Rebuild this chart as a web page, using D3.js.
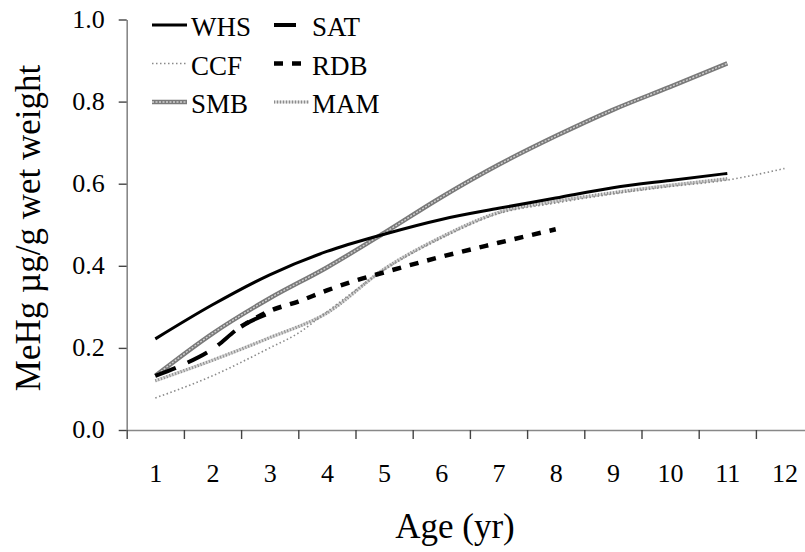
<!DOCTYPE html>
<html>
<head>
<meta charset="utf-8">
<script src="https://d3js.org/d3.v7.min.js"></script>
<style>
body{margin:0;background:#fff;}
</style>
</head>
<body>
<div id="chart"></div>
<script>
// values
var ageLabels=[1,2,3,4,5,6,7,8,9,10,11,12];
var yTicks=[0,0.2,0.4,0.6,0.8,1.0];

var whsAge=[1,2,3,4,5,6,7,8,9,10,11];
var whsVal=[0.222,0.305,0.378,0.435,0.477,0.513,0.54,0.565,0.59,0.608,0.625];

var ccfAge=[1,2,3,3.5,4,5,6,7,8,9,10,11,12];
var ccfVal=[0.078,0.132,0.2,0.236,0.288,0.39,0.467,0.527,0.553,0.575,0.593,0.609,0.637];

var smbAge=[1,2,3,4,5,6,7,8,9,10,11];
var smbVal=[0.132,0.235,0.321,0.396,0.48,0.567,0.646,0.716,0.78,0.836,0.893];

var satAge=[1,1.5,2,2.5,3];
var satVal=[0.132,0.16,0.197,0.252,0.285];

var rdbAge=[2.5,3,3.5,4,4.5,5,6,7,8];
var rdbVal=[0.252,0.29,0.313,0.34,0.364,0.384,0.422,0.456,0.489];

var mamAge=[1,2,3,4,5,6,7,8,9,10,11];
var mamVal=[0.12,0.17,0.225,0.285,0.392,0.47,0.53,0.557,0.578,0.596,0.612];

// legend order, row by row
var legendNames=["WHS","SAT","CCF","RDB","SMB","MAM"];

var FONT='"Liberation Serif","Times New Roman",serif';

//line styles, each one is a list of stroke layers
var styles={
	WHS:[{stroke:"#000",width:3}],
	SAT:[{stroke:"#000",width:4,dash:"22,13"}],
	CCF:[{stroke:"#8a8a8a",width:1.6,dash:"1.5,2.5"}],
	RDB:[{stroke:"#000",width:4.5,dash:"9,9"}],
	SMB:[{stroke:"#7a7a7a",width:4.5},{stroke:"#cfcfcf",width:1.4,dash:"2,1.5"}],
	MAM:[{stroke:"#d4d4d4",width:3.2},{stroke:"#8c8c8c",width:3.2,dash:"1,2"}]
};

var series=[
	{name:"MAM",age:mamAge,val:mamVal},
	{name:"CCF",age:ccfAge,val:ccfVal},
	{name:"SMB",age:smbAge,val:smbVal},
	{name:"SAT",age:satAge,val:satVal},
	{name:"RDB",age:rdbAge,val:rdbVal},
	{name:"WHS",age:whsAge,val:whsVal}
];

var width=805, height=552;
var svg=d3.select("#chart").append("svg")
	.attr("width",width).attr("height",height)
	.style("font-family",FONT);

// category axis: step 57.2px, boundaries at .5
var x=d3.scaleLinear().domain([0.5,12.5]).range([126.7,813.1]);
var y=d3.scaleLinear().domain([0,1]).range([430,19.5]);

// y axis
var yAxis=svg.append("g")
	.attr("transform","translate("+x(0.5)+",0)")
	.call(d3.axisLeft(y).tickValues(yTicks).tickFormat(d3.format(".1f"))
		.tickSize(8).tickSizeOuter(0).tickPadding(14));
yAxis.selectAll("text").style("font-size","26px").attr("dy","0.3em");

// x axis: tick marks on category boundaries, labels in the middle
var bounds=ageLabels.map(function(d){return d-0.5;});
var xAxis=svg.append("g")
	.attr("transform","translate(0,"+y(0)+")")
	.call(d3.axisBottom(x).tickValues(bounds).tickFormat("").tickSize(9).tickSizeOuter(0));
var xLab=svg.append("g")
	.attr("transform","translate(0,"+y(0)+")")
	.call(d3.axisBottom(x).tickValues(ageLabels).tickFormat(d3.format("d")).tickSize(0).tickPadding(34));
xLab.select(".domain").remove();
xLab.selectAll("text").style("font-size","26px");

svg.selectAll("g").attr("font-family",null);
svg.selectAll(".domain").attr("stroke","#888").attr("stroke-width",1.6);
svg.selectAll(".tick line").attr("stroke","#444").attr("stroke-width",1.4);

// series lines
var line=d3.line()
	.x(function(d){return x(d[0]);})
	.y(function(d){return y(d[1]);})
	.curve(d3.curveMonotoneX);

series.forEach(function(s){
	var pts=s.age.map(function(a,i){return [a,s.val[i]];});
	styles[s.name].forEach(function(st){
		svg.append("path")
			.datum(pts)
			.attr("fill","none")
			.attr("stroke",st.stroke)
			.attr("stroke-width",st.width)
			.attr("stroke-dasharray",st.dash?st.dash:null)
			.attr("d",line);
	});
});

// legend
var lg=svg.append("g");
legendNames.forEach(function(name,i){
	var col=i%2, row=Math.floor(i/2);
	var lx=col?274:152, tx=col?312:191, ly=25+row*38.5;
	styles[name].forEach(function(st){
		lg.append("line")
			.attr("x1",lx).attr("x2",lx+35)
			.attr("y1",ly).attr("y2",ly)
			.attr("stroke",st.stroke)
			.attr("stroke-width",st.width)
			.attr("stroke-dasharray",st.dash?st.dash:null);
	});
	lg.append("text")
		.attr("x",tx).attr("y",ly+11)
		.style("font-size","27px")
		.text(name);
});

svg.selectAll("text").style("font-family",FONT).attr("fill","#000");

// axis titles
svg.append("text")
	.attr("x",455).attr("y",538)
	.attr("text-anchor","middle")
	.style("font-family",FONT)
	.style("font-size","35px")
	.text("Age (yr)");

svg.append("text")
	.attr("transform","translate(40,228) rotate(-90)")
	.attr("text-anchor","middle")
	.style("font-family",FONT)
	.style("font-size","35px")
	.text("MeHg µg/g wet weight");
</script>
</body>
</html>
